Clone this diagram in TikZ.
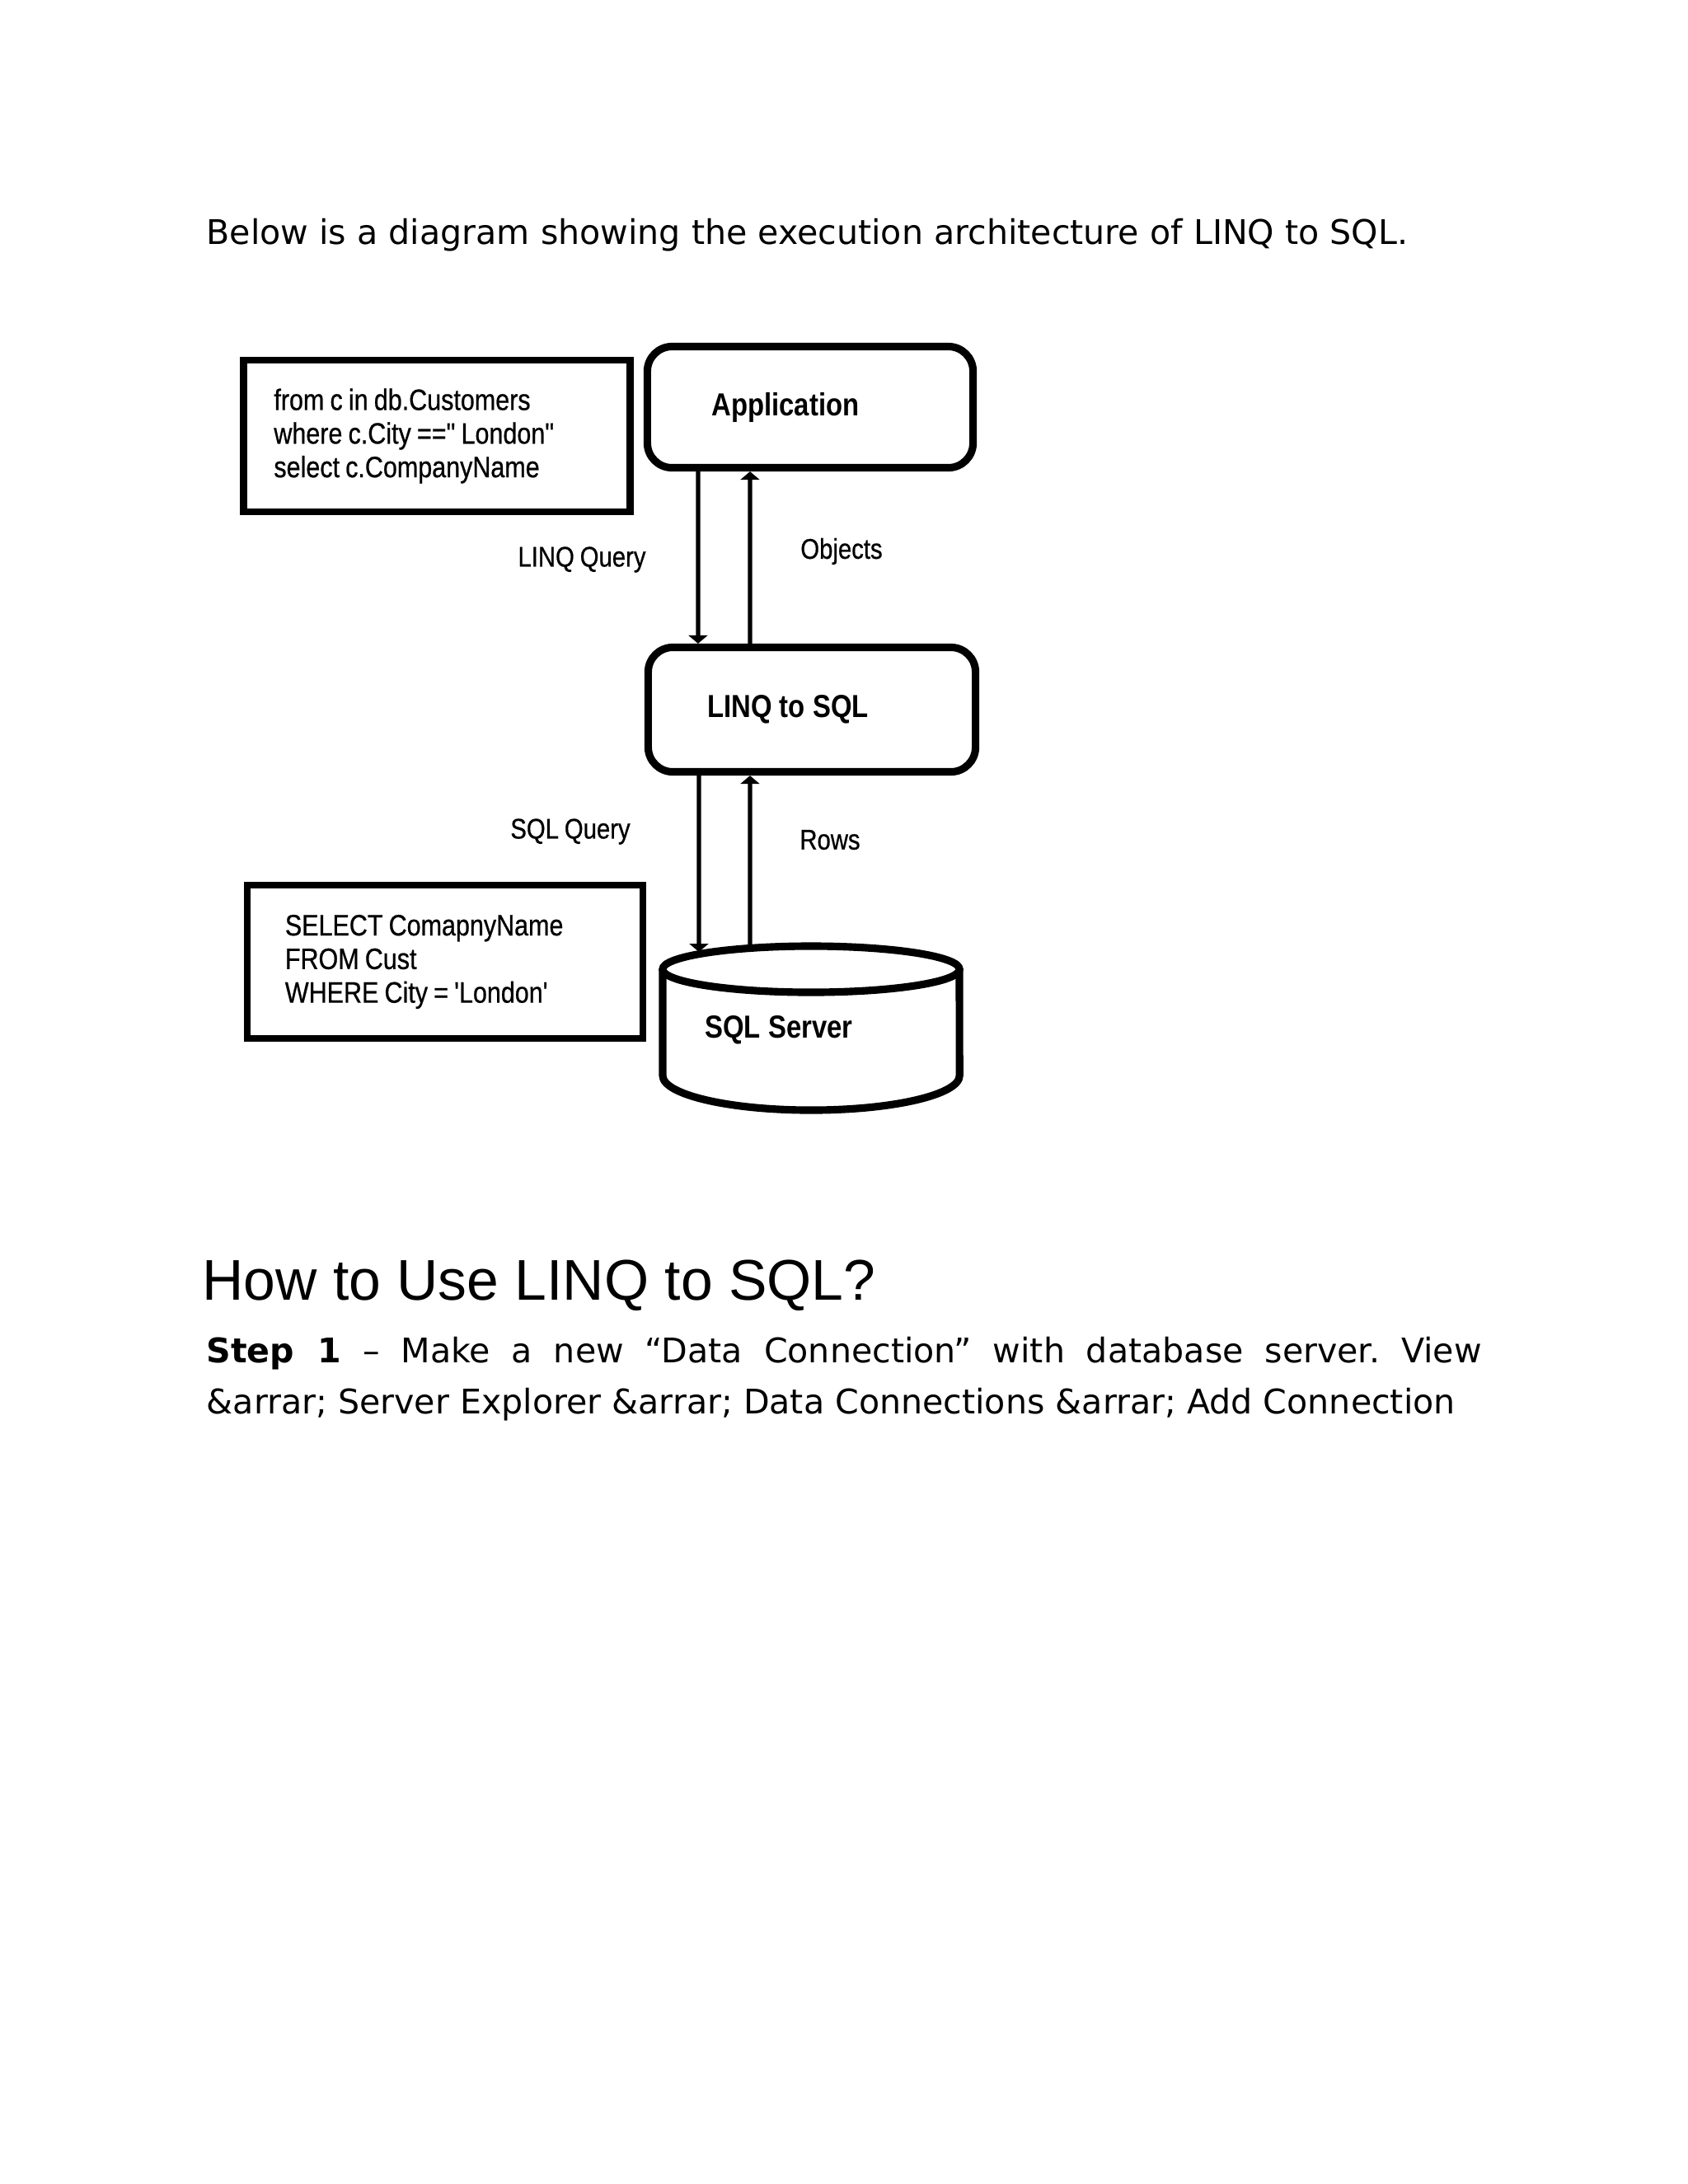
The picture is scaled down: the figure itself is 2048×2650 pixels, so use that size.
\documentclass[tikz,border=0pt]{standalone}
\usepackage{fontspec}
\setmainfont{DejaVu Sans}
\newfontfamily\bodyfont{DejaVu Sans}
\newfontfamily\headfont{Liberation Sans}
\newfontfamily\diafont[FakeStretch=0.85, FakeBold=0.6]{Liberation Sans}
\newfontfamily\diabold[FakeStretch=0.85]{Liberation Sans Bold}
\newcommand\mytightsp{\spaceskip=0.2em plus 0.05em\relax}
\usetikzlibrary{arrows.meta}
\tikzset{
  qbox/.style={draw, line width=2.4pt, rectangle, align=left, inner xsep=0pt,
    font=\diafont\fontsize{10.2}{11.6}\selectfont, execute at begin node=\mytightsp},
  rbox/.style={draw, line width=2.6pt, rounded corners=0.3cm,
    font=\diabold\fontsize{11}{13}\selectfont},
  lbl/.style={inner sep=0pt, font=\diafont\fontsize{9.8}{11.4}\selectfont\mytightsp},
  arr/.style={line width=1.5pt, -{Triangle[length=0.1cm, width=0.23cm]}},
  txt/.style={anchor=base west, inner sep=0pt},
}
\begin{document}
\frenchspacing
\begin{tikzpicture}[x=0.01cm, y=-0.01cm]
\useasboundingbox (0,0) rectangle (2048,2650);
\fill[white] (0,0) rectangle (2048,2650);

% title
\node[txt, font=\bodyfont\fontsize{11.7}{14}\selectfont] (title) at (250,296)
  {Below is a diagram showing the execution architecture of LINQ to SQL.};

% query boxes
\node[qbox, minimum width=4.69cm, minimum height=1.84cm, text width=3.95cm] (q1) at (530,529)
  {from c in db.Customers\\ where c.City ==" London"\\ select c.CompanyName};
\node[qbox, minimum width=4.80cm, minimum height=1.86cm, text width=3.88cm] (q2) at (540,1167)
  {SELECT ComapnyName\\ FROM Cust\\ WHERE City = 'London'};

% rounded boxes
\node[rbox, minimum width=3.95cm, minimum height=1.47cm] (app) at (983,494)
  {Application\hspace*{0.6cm}};
\node[rbox, minimum width=3.97cm, minimum height=1.51cm] (l2s) at (985,861)
  {LINQ to SQL\hspace*{0.58cm}};

% cylinder
\node[inner sep=0pt, minimum width=3.6cm, minimum height=1.7cm,
  font=\diabold\fontsize{11}{13}\selectfont] (db) at (984,1250) {SQL Server\hspace*{0.78cm}};
\draw[line width=2.6pt] (984,1176) ellipse [x radius=1.8cm, y radius=0.28cm];
\draw[line width=2.6pt] (804,1176) -- (804,1305)
  arc[start angle=180, end angle=360, x radius=1.8cm, y radius=0.42cm] -- (1164,1176);
\coordinate (dbtopL) at (848,1155);
\coordinate (dbtopR) at (910,1150);

% connectors
\draw[arr] ([xshift=-1.36cm]app.south) -- ([xshift=-1.38cm]l2s.north);
\draw[arr] ([xshift=-0.75cm]l2s.north) -- ([xshift=-0.73cm]app.south);
\draw[arr] ([xshift=-1.37cm]l2s.south) -- (dbtopL);
\draw[arr] (dbtopR) -- ([xshift=-0.75cm]l2s.south);

% labels
\node[lbl] (lq) at (706,679) {LINQ Query};
\node[lbl] (obj) at (1021,669) {Objects};
\node[lbl] (sq) at (692,1009) {SQL Query};
\node[lbl] (rows) at (1007,1019) {Rows};

% heading and step
\node[txt, font=\headfont\fontsize{19.8}{24}\selectfont] (head) at (245,1577)
  {How to Use LINQ to SQL?};
\node[txt, font=\bodyfont\fontsize{11.7}{14}\selectfont] (step) at (250,1653)
  {\makebox[15.46cm][s]{\textbf{Step 1} – Make a new “Data Connection” with database server. View}};
\node[txt, font=\bodyfont\fontsize{11.7}{14}\selectfont] (step2) at (250,1715)
  {\&arrar; Server Explorer \&arrar; Data Connections \&arrar; Add Connection};
\end{tikzpicture}
\end{document}
